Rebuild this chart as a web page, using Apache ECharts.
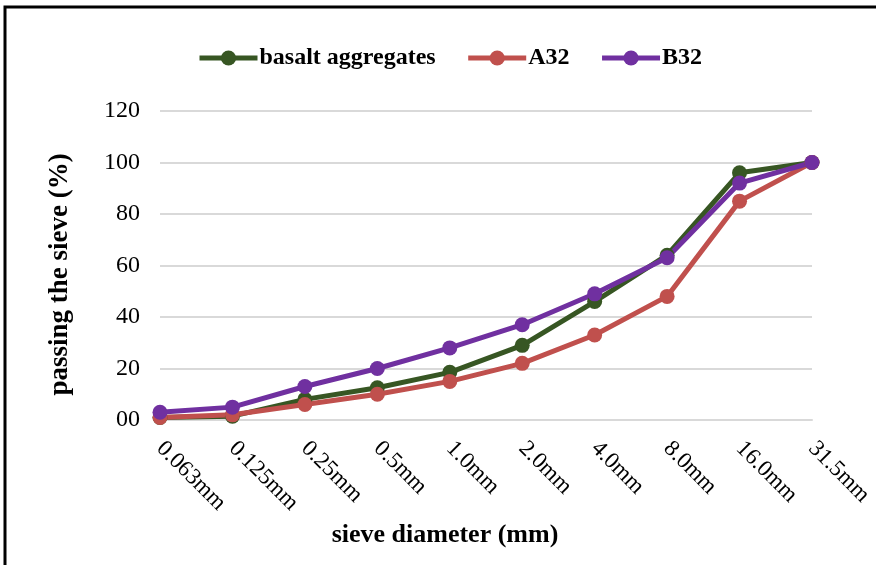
<!DOCTYPE html>
<html>
<head>
<meta charset="utf-8">
<script src="https://cdn.jsdelivr.net/npm/echarts@6/dist/echarts.min.js"></script>
<style>html,body{margin:0;padding:0;background:#fff;}#c{width:876px;height:565px;}</style>
</head>
<body>
<div id="c"></div>
<script>
var categories = ['0.063mm','0.125mm','0.25mm','0.5mm','1.0mm','2.0mm','4.0mm','8.0mm','16.0mm','31.5mm'];
var basalt = [1, 1.5, 8, 12.5, 18.5, 29, 46, 64, 96, 100];
var a32 = [1, 2, 6, 10, 15, 22, 33, 48, 85, 100];
var b32 = [3, 5, 13, 20, 28, 37, 49, 63, 92, 100];
var yTickLabels = {0:'00',20:'20',40:'40',60:'60',80:'80',100:'100',120:'120'};

var font = '"Liberation Serif", "Times New Roman", serif';
var chart = echarts.init(document.getElementById('c'));
function mk(name, data, color) {
  return {
    name: name, type: 'line', data: data,
    symbol: 'circle', symbolSize: 15,
    lineStyle: {width: 5, color: color},
    itemStyle: {color: color},
    emphasis: {disabled: true}
  };
}
chart.setOption({
  animation: false,
  textStyle: {fontFamily: font},
  graphic: [{
    type: 'rect', silent: true,
    shape: {x: 5, y: 7, width: 900, height: 600},
    style: {fill: 'none', stroke: '#000', lineWidth: 3}
  }],
  legend: {
    top: 41, left: 192,
    itemWidth: 58, itemHeight: 19, itemGap: 30,
    lineStyle: {width: 5},
    textStyle: {fontFamily: font, fontWeight: 'bold', fontSize: 24, color: '#000', padding: [0,0,0,-3]},
    data: ['basalt aggregates', 'A32', 'B32']
  },
  grid: {left: 160, right: 63, top: 111, bottom: 145},
  xAxis: {
    type: 'category', data: categories, boundaryGap: false,
    axisLine: {show: true, lineStyle: {color: '#d9d9d9', width: 2}},
    axisTick: {show: false},
    axisLabel: {rotate: -45, margin: 25, fontFamily: font, fontSize: 23, color: '#000', interval: 0},
    name: 'sieve diameter (mm)', nameLocation: 'middle', nameGap: 101,
    nameTextStyle: {fontFamily: font, fontWeight: 'bold', fontSize: 26, color: '#000', padding: [0, 82, 0, 0]}
  },
  yAxis: {
    type: 'value', min: 0, max: 120, interval: 20,
    axisLine: {show: false}, axisTick: {show: false},
    splitLine: {lineStyle: {color: '#d9d9d9', width: 2}},
    axisLabel: {margin: 20, fontFamily: font, fontSize: 24, color: '#000',
      formatter: function (v) { return yTickLabels[v] !== undefined ? yTickLabels[v] : String(v); }},
    name: 'passing the sieve (%)', nameLocation: 'middle', nameGap: 86,
    nameTextStyle: {fontFamily: font, fontWeight: 'bold', fontSize: 27, color: '#000', padding: [0, 18, 0, 0]}
  },
  series: [
    mk('basalt aggregates', basalt, '#375623'),
    mk('A32', a32, '#C0504D'),
    mk('B32', b32, '#7030A0')
  ]
});
</script>
</body>
</html>
